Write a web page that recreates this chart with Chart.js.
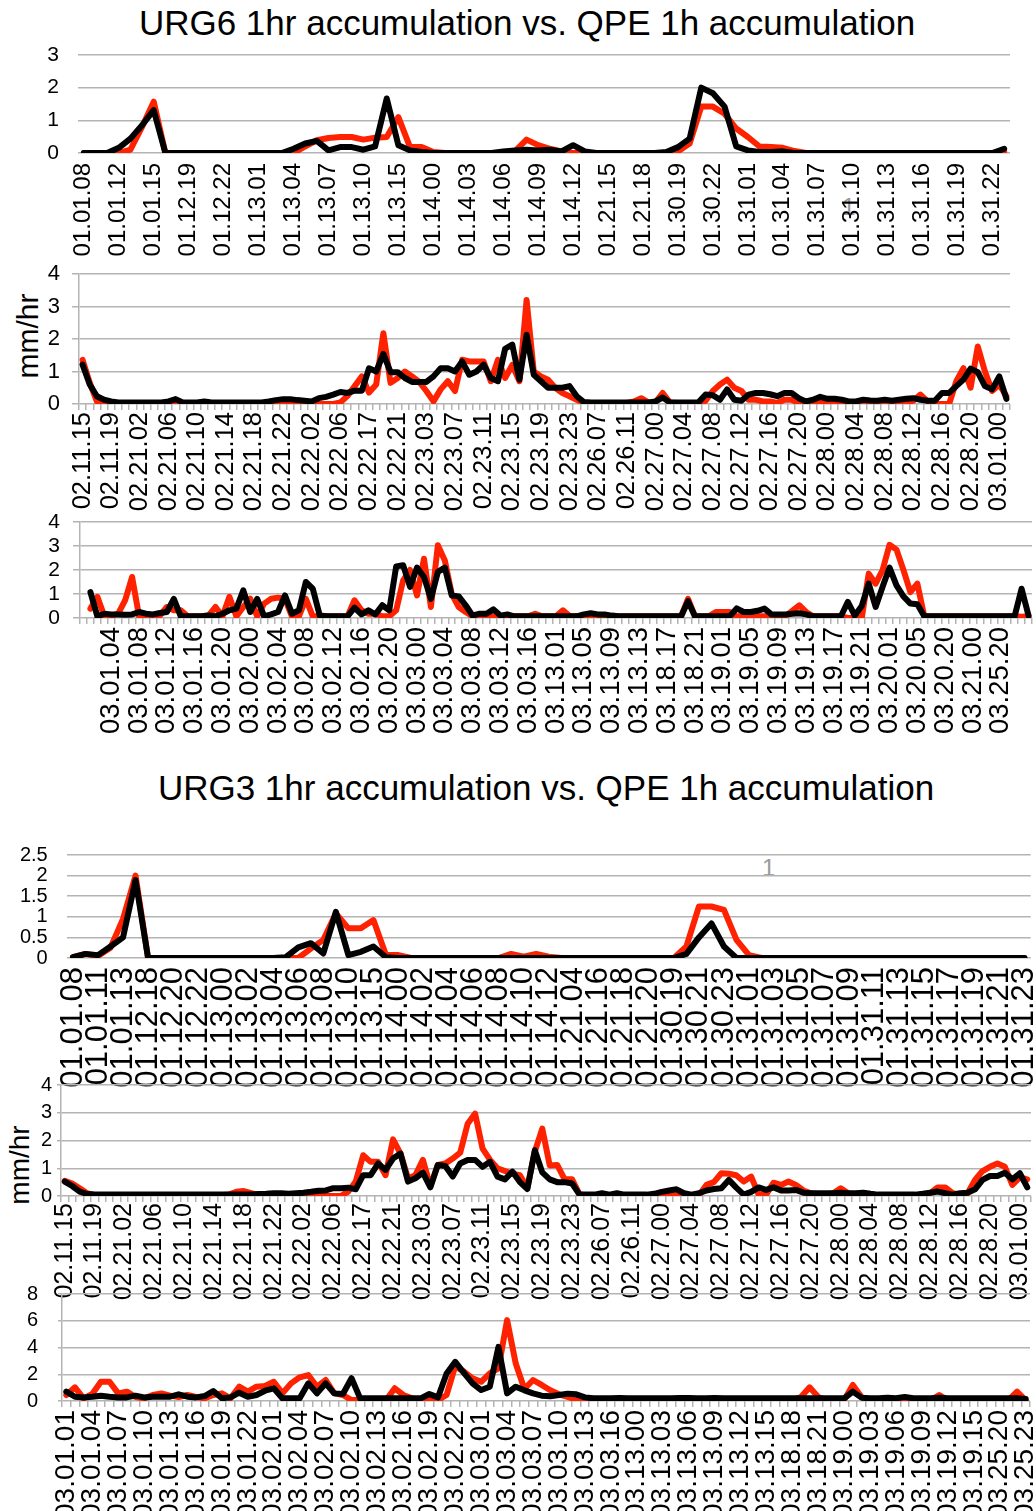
<!DOCTYPE html>
<html><head><meta charset="utf-8">
<script src="https://cdn.jsdelivr.net/npm/chart.js@4.4.0/dist/chart.umd.min.js"></script>
<style>
html,body{margin:0;padding:0;background:#fff;}
body{width:1036px;height:1511px;overflow:hidden;position:relative;font-family:"Liberation Sans",Arial,sans-serif;}
.title{position:absolute;font-size:35px;line-height:35px;color:#000;white-space:nowrap;transform:translateX(-50%);}
.ylab{position:absolute;white-space:nowrap;color:#000;transform:translate(-50%,-50%) rotate(-90deg);line-height:1;}
.stray{position:absolute;color:#9a9a9a;font-size:24px;line-height:24px;}
canvas{position:absolute;left:0;}
</style></head>
<body>
<div class="title" style="left:527px;top:5px;">URG6 1hr accumulation vs. QPE 1h accumulation</div>
<div class="title" style="left:546px;top:770px;">URG3 1hr accumulation vs. QPE 1h accumulation</div>
<div class="ylab" style="left:28px;top:336px;font-size:30px;">mm/hr</div>
<div class="ylab" style="left:20px;top:1165px;font-size:28px;">mm/hr</div>
<div class="stray" style="left:842px;top:195px;">1</div>
<div class="stray" style="left:762px;top:856px;">1</div>
<script>
// ---------- URG6 panel 1 (January) ----------
const p1Ticks = ['01.01.08','01.01.12','01.01.15','01.12.19','01.12.22','01.13.01','01.13.04','01.13.07','01.13.10','01.13.15','01.14.00','01.14.03','01.14.06','01.14.09','01.14.12','01.21.15','01.21.18','01.30.19','01.30.22','01.31.01','01.31.04','01.31.07','01.31.10','01.31.13','01.31.16','01.31.19','01.31.22'];
const p1QPE = [0,0,0,0,0.1,0.8,1.57,0,0,0, 0,0,0,0,0,0,0,0,0,0.2, 0.39,0.46,0.49,0.49,0.41,0.47,0.49,1.1,0.18,0.18, 0.03,0,0,0,0,0,0,0.05,0.41,0.24, 0.13,0.05,0,0,0,0,0,0,0,0, 0,0.05,0.29,1.42,1.42,1.2,0.75,0.49,0.2,0.18, 0.16,0.06,0,0,0,0,0,0,0,0, 0,0,0,0,0,0,0,0,0,0.05];
const p1URG = [0,0,0,0.16,0.44,0.85,1.31,0,0,0, 0,0,0,0,0,0,0,0,0.13,0.29, 0.37,0.08,0.18,0.18,0.1,0.2,1.67,0.24,0.08,0.03, 0,0,0,0,0,0,0.05,0.08,0.1,0.08, 0.1,0.05,0.24,0.05,0,0,0,0,0,0, 0.03,0.18,0.44,2.0,1.83,1.42,0.2,0.08,0.03,0.03, 0.05,0,0,0,0,0,0,0,0,0, 0,0,0,0,0,0,0,0,0,0.13];

// ---------- URG6 panel 2 (February) ----------
const febTicks = ['02.11.15','02.11.19','02.21.02','02.21.06','02.21.10','02.21.14','02.21.18','02.21.22','02.22.02','02.22.06','02.22.17','02.22.21','02.23.03','02.23.07','02.23.11','02.23.15','02.23.19','02.23.23','02.26.07','02.26.11','02.27.00','02.27.04','02.27.08','02.27.12','02.27.16','02.27.20','02.28.00','02.28.04','02.28.08','02.28.12','02.28.16','02.28.20','03.01.00'];
const p2URG = [1.21,0.6,0.24,0.13,0.08,0.05,0.05,0.05,0.05,0.05, 0.05,0.05,0.08,0.15,0.05,0.05,0.05,0.08,0.05,0.05, 0.05,0.05,0.05,0.05,0.05,0.05,0.08,0.12,0.15,0.15, 0.12,0.1,0.08,0.18,0.22,0.29,0.37,0.34,0.41,0.41, 1.1,1.0,1.54,0.98,0.98,0.8,0.68,0.68,0.68,0.85, 1.1,1.1,1.0,1.31,0.9,1.0,1.21,0.8,0.7,1.7, 1.83,0.75,2.13,0.9,0.7,0.5,0.5,0.5,0.55,0.24, 0.06,0.05,0.05,0.05,0.05,0.05,0.05,0.05,0.05,0.05, 0.08,0.2,0.05,0.05,0.05,0.05,0.05,0.29,0.27,0.13, 0.45,0.13,0.1,0.29,0.34,0.34,0.3,0.24,0.34,0.34, 0.18,0.08,0.13,0.22,0.16,0.16,0.13,0.08,0.08,0.13, 0.11,0.1,0.13,0.1,0.13,0.16,0.18,0.13,0.1,0.1, 0.34,0.34,0.55,0.75,1.09,0.98,0.55,0.45,0.85,0.16];
const p2QPE = [1.36,0.65,0.08,0.02,0.02,0.02,0.02,0.02,0.02,0.02, 0.02,0.02,0.02,0.02,0.02,0.02,0.02,0.02,0.02,0.02, 0.02,0.02,0.02,0.02,0.02,0.02,0.02,0.02,0.02,0.02, 0.02,0.02,0.02,0,0,0,0.05,0.25,0.55,0.85, 0.35,0.6,2.18,0.65,0.8,1.0,0.85,0.68,0.4,0.08, 0.45,0.7,0.4,1.36,1.31,1.31,1.31,0.7,1.36,0.8, 1.2,0.7,3.2,1.0,0.85,0.75,0.5,0.34,0.24,0.13, 0.03,0.03,0.03,0.03,0.03,0.03,0.03,0.08,0.18,0.05, 0.05,0.34,0.05,0.03,0.03,0.03,0,0.1,0.4,0.6, 0.75,0.5,0.4,0.13,0.13,0.08,0.08,0.03,0.13,0.13, 0.03,0.03,0.03,0.05,0.03,0.03,0.03,0.03,0.03,0.03, 0.03,0.03,0.03,0.03,0.03,0.05,0.1,0.29,0.08,0, 0,0,0.7,1.1,0.5,1.77,1.0,0.4,0.6,0.24];

// ---------- URG6 panel 3 (March) ----------
const p3Ticks = ['','03.01.04','03.01.08','03.01.12','03.01.16','03.01.20','03.02.00','03.02.04','03.02.08','03.02.12','03.02.16','03.02.20','03.03.00','03.03.04','03.03.08','03.03.12','03.03.16','03.13.01','03.13.05','03.13.09','03.13.13','03.18.17','03.18.21','03.19.01','03.19.05','03.19.09','03.19.13','03.19.17','03.19.21','03.20.01','03.20.05','03.20.20','03.21.00','03.25.20'];
const p3URG = [null, 1.08,0.07,0.18,0.15,0.15,0.14,0.15,0.25,0.18,0.15, 0.21,0.25,0.8,0.07,0.07,0.07,0.07,0.1,0.07,0.18, 0.32,0.39,1.15,0.25,0.8,0.07,0.15,0.25,0.94,0.18, 0.32,1.5,1.22,0.1,0.07,0.07,0.07,0.07,0.43,0.15, 0.32,0.15,0.53,0.32,2.15,2.2,1.3,2.1,1.71,0.8, 1.92,2.1,0.94,0.9,0.53,0.1,0.18,0.18,0.36,0.1, 0.15,0.07,0.07,0.07,0.07,0.07,0.07,0.07,0.07,0.07, 0.07,0.15,0.2,0.15,0.15,0.1,0.07,0.07,0.07,0.07, 0.07,0.07,0.07,0.07,0.07,0.07,0.7,0.07,0.07,0.07, 0.07,0.07,0.07,0.4,0.25,0.25,0.3,0.39,0.15,0.15, 0.15,0.18,0.2,0.15,0.07,0.07,0.07,0.07,0.07,0.67, 0.1,0.5,1.43,0.46,1.3,2.1,1.36,0.9,0.6,0.57, 0.07,0.07,0.07,0.07,0.07,0.07,0.07,0.07,0.07,0.07, 0.07,0.07,0.07,0.07,1.22,0.1];
const p3QPE = [null, 0.39,0.88,0.07,0.1,0.18,0.74,1.71,0.07,0.1,0.1, 0.1,0.46,0.32,0.32,0.07,0.07,0.07,0.1,0.46,0.07, 0.88,0.07,0.46,0.8,0.07,0.6,0.8,0.85,0.8,0.07, 0.07,0.8,0.07,0.07,0.07,0.07,0.07,0.07,0.74,0.32, 0.18,0.18,0.07,0.07,0.32,1.57,2.0,0.94,2.47,0.46, 3.03,2.4,1.0,0.46,0.25,0.07,0.07,0.07,0.07,0.07, 0.07,0.07,0.07,0.07,0.18,0.07,0.07,0.07,0.32,0.07, 0.07,0.07,0.07,0.07,0.07,0.07,0.07,0.07,0.07,0.07, 0.07,0.07,0.07,0.07,0.07,0.07,0.8,0.07,0.07,0.07, 0.25,0.25,0.25,0.07,0.07,0.07,0.07,0.07,0.07,0.07, 0.07,0.3,0.53,0.25,0.07,0.07,0.07,0.07,0.07,0, 0,0,1.85,1.43,2.0,3.05,2.85,2.0,1.08,1.43, 0.07,0.07,0.07,0.07,0.07,0.07,0.07,0.07,0.07,0.07, 0.07,0.07,0.07,0.07,0.05,0.07];

// ---------- URG3 panel 4 (January) ----------
const p4Ticks = ['01.01.08','01.01.11','01.01.13','01.12.18','01.12.20','01.12.22','01.13.00','01.13.02','01.13.04','01.13.06','01.13.08','01.13.10','01.13.15','01.14.00','01.14.02','01.14.04','01.14.06','01.14.08','01.14.10','01.14.12','01.21.04','01.21.16','01.21.18','01.21.20','01.30.19','01.30.21','01.30.23','01.31.01','01.31.03','01.31.05','01.31.07','01.31.09','01.31.11','01.31.13','01.31.15','01.31.17','01.31.19','01.31.21','01.31.23'];
const p4URG = [0.02,0.1,0.07,0.28,0.5,1.89,0,0,0,0, 0,0,0,0,0,0,0,0.02,0.26,0.36, 0.11,1.12,0.07,0.15,0.28,0.02,0,0,0,0, 0,0,0,0,0,0,0,0,0,0, 0,0,0,0,0,0,0,0,0,0.1, 0.5,0.84,0.28,0,0,0,0,0,0,0, 0,0,0,0,0,0,0,0,0,0, 0,0,0,0,0,0,0];
const p4QPE = [0.02,0.1,0.05,0.25,0.95,2.0,0,0,0,0, 0,0,0,0,0,0,0,0,0,0.23, 0.44,1.08,0.72,0.72,0.92,0.07,0.07,0,0,0, 0,0,0,0,0,0.1,0.03,0.1,0.03,0, 0,0,0,0,0,0,0,0,0,0.28, 1.25,1.25,1.17,0.44,0.07,0,0,0,0,0, 0,0,0,0,0,0,0,0,0,0, 0,0,0,0,0,0,0];

// ---------- URG3 panel 5 (February) ----------
const p5URG = [0.52,0.36,0.16,0.07,0.05,0.05,0.05,0.05,0.05,0.05, 0.05,0.05,0.05,0.05,0.05,0.05,0.05,0.05,0.05,0.05, 0.05,0.05,0.05,0.05,0.05,0.05,0.07,0.08,0.1,0.1, 0.08,0.1,0.12,0.15,0.19,0.2,0.28,0.28,0.3,0.24, 0.75,0.75,1.17,0.94,1.35,1.53,0.52,0.64,0.84,0.31, 1.12,1.08,0.7,1.17,1.3,1.3,1.05,1.23,0.7,0.6, 0.88,0.5,0.25,1.65,0.85,0.6,0.5,0.5,0.45,0.05, 0.05,0.05,0.1,0.05,0.1,0.05,0.05,0.05,0.05,0.08, 0.15,0.2,0.24,0.1,0.05,0.1,0.2,0.25,0.28,0.58, 0.3,0.05,0.15,0.31,0.22,0.31,0.2,0.2,0.22,0.12, 0.1,0.1,0.1,0.1,0.12,0.1,0.1,0.12,0.08,0.05, 0.05,0.05,0.05,0.05,0.05,0.08,0.12,0.16,0.1,0.05, 0.1,0.12,0.24,0.58,0.72,0.72,0.84,0.6,0.82,0.31];
const p5QPE = [0.55,0.45,0.28,0.1,0.03,0.03,0.03,0.03,0.03,0.03, 0.03,0.03,0.03,0.03,0.03,0.03,0.03,0.03,0.03,0.03, 0.03,0.03,0.05,0.15,0.18,0.1,0.03,0.03,0.03,0.03, 0.03,0.03,0.03,0.03,0.03,0,0,0,0.16,0.52, 1.47,1.23,1.23,0.75,2.04,1.53,0.64,0.75,1.3,0.34, 1.12,1.17,1.35,1.56,2.6,2.97,1.71,1.3,1.0,0.9, 0.8,0.75,0.3,1.6,2.43,1.1,1.12,0.6,0.6,0.05, 0.03,0.03,0.03,0.03,0.03,0.03,0.03,0.03,0.03,0.03, 0.03,0.03,0.03,0.03,0.03,0.03,0.4,0.5,0.82,0.8, 0.75,0.52,0.7,0.05,0.05,0.48,0.4,0.52,0.4,0.2, 0.1,0.05,0.05,0.1,0.28,0.1,0.05,0.05,0.05,0.03, 0.03,0.03,0.03,0.03,0.03,0.05,0.1,0.31,0.31,0.1, 0.05,0.1,0.58,0.9,1.05,1.17,1.05,0.4,0.67,0.6];

// ---------- URG3 panel 6 (March) ----------
const p6Ticks = ['03.01.01','03.01.04','03.01.07','03.01.10','03.01.13','03.01.16','03.01.19','03.01.22','03.02.01','03.02.04','03.02.07','03.02.10','03.02.13','03.02.16','03.02.19','03.02.22','03.03.01','03.03.04','03.03.07','03.03.10','03.03.13','03.03.16','03.13.00','03.13.03','03.13.06','03.13.09','03.13.12','03.13.15','03.18.18','03.18.21','03.19.00','03.19.03','03.19.06','03.19.09','03.19.12','03.19.15','03.25.20','03.25.23'];
const p6URG = [0.7,0.32,0.27,0.32,0.4,0.32,0.27,0.27,0.4,0.27, 0.32,0.32,0.32,0.5,0.32,0.27,0.37,0.75,0.2,0.27, 0.62,0.32,0.45,0.77,0.95,0.2,0.2,0.2,1.32,0.57, 1.32,0.57,0.52,1.7,0.2,0.2,0.2,0.2,0.2,0.2, 0.2,0.2,0.52,0.27,2.06,2.93,2.1,1.32,0.82,1.07, 4.05,0.57,1.07,0.8,0.57,0.4,0.35,0.45,0.55,0.5, 0.27,0.2,0.2,0.2,0.22,0.2,0.2,0.2,0.2,0.2, 0.2,0.22,0.22,0.2,0.2,0.22,0.2,0.2,0.2,0.2, 0.2,0.2,0.2,0.2,0.2,0.2,0.2,0.2,0.2,0.2, 0.2,0.7,0.25,0.2,0.2,0.25,0.2,0.3,0.2,0.2, 0.2,0.25,0.2,0.2,0.2,0.2,0.2,0.2,0.2,0.2, 0.2,0.15];
const p6QPE = [0.45,1.02,0.2,0.52,1.44,1.44,0.57,0.7,0.3,0.2, 0.45,0.57,0.4,0.3,0.45,0.3,0.2,0.45,0.57,0.2, 1.07,0.7,1.07,1.12,1.44,0.57,1.32,1.77,1.94,1.07, 1.57,0.57,0.45,0.07,0.07,0.07,0.07,0.07,0.95,0.45, 0.2,0.07,0.07,0.07,0.45,2.6,2.2,1.7,1.44,2.06, 2.44,6.05,2.8,0.9,1.57,1.2,0.8,0.5,0.3,0.1, 0.07,0.07,0.07,0.07,0.07,0.07,0.07,0.07,0.07,0.07, 0.07,0.07,0.07,0.07,0.07,0.07,0.07,0.07,0.07,0.07, 0.07,0.07,0.07,0.07,0.07,0.3,1.02,0.3,0.07,0.07, 0.07,1.2,0.3,0.07,0.07,0.07,0.07,0.07,0.07,0.07, 0.07,0.45,0.07,0.07,0.07,0.07,0.07,0.07,0.07,0.07, 0.7,0.07];

function expandLabels(ticks, step, n) {
  const out = new Array(n).fill('');
  ticks.forEach((t, k) => { if (k * step < n) out[k * step] = t; });
  return out;
}

const FONT = '"Liberation Sans", Arial, sans-serif';
const GRID = '#b4b4b4';

const panels = [
  {labels: expandLabels(p1Ticks, 3, 80), urg: p1URG, qpe: p1QPE, yMax: 3, yStep: 1,
   left: 78, right: 1010, top: 55, bottom: 152.7, axis: false, yTick: 0, yPad: 19, yFont: 21,
   xTick: 0, xPad: 10, xFont: 24},
  {labels: expandLabels(febTicks, 4, 130), urg: p2URG, qpe: p2QPE, yMax: 4, yStep: 1,
   left: 79, right: 1010, top: 274.3, bottom: 404.3, axis: true, yTick: 7, yPad: 12, yFont: 22,
   xTick: 6, xPad: 2, xFont: 25.5},
  {labels: expandLabels(p3Ticks, 4, 137), urg: p3URG, qpe: p3QPE, yMax: 4, yStep: 1,
   left: 80, right: 1032, top: 521.7, bottom: 617.7, axis: true, yTick: 7, yPad: 13, yFont: 21,
   xTick: 6, xPad: 3, xFont: 27.5},
  {labels: expandLabels(p4Ticks, 2, 77), urg: p4URG, qpe: p4QPE, yMax: 2.5, yStep: 0.5,
   left: 66.7, right: 1030.7, top: 855, bottom: 958, axis: false, yTick: 0, yPad: 19, yFont: 20,
   xTick: 0, xPad: 9, xFont: 31},
  {labels: expandLabels(febTicks, 4, 130), urg: p5URG, qpe: p5QPE, yMax: 4, yStep: 1,
   left: 61, right: 1031, top: 1085, bottom: 1196, axis: true, yTick: 4, yPad: 5, yFont: 20,
   xTick: 6, xPad: 1, xFont: 25},
  {labels: expandLabels(p6Ticks, 3, 112), urg: p6URG, qpe: p6QPE, yMax: 8, yStep: 2,
   left: 62, right: 1030, top: 1294, bottom: 1401, axis: true, yTick: 4, yPad: 20, yFont: 20,
   xTick: 6, xPad: 3, xFont: 28}
];

panels.forEach(p => {
  const padTop = 16, xh = 140;
  const H = Math.round(padTop + (p.bottom - p.top) + xh);
  const cv = document.createElement('canvas');
  cv.width = 1036; cv.height = H;
  cv.style.top = (p.top - padTop) + 'px';
  cv.style.width = '1036px'; cv.style.height = H + 'px';
  document.body.appendChild(cv);
  new Chart(cv, {
    type: 'line',
    data: {
      labels: p.labels,
      datasets: [
        {label: 'URG', data: p.urg, borderColor: '#000000', borderWidth: 6, pointRadius: 0,
         tension: 0, borderJoinStyle: 'round', borderCapStyle: 'round', order: 0, spanGaps: false},
        {label: 'QPE', data: p.qpe, borderColor: '#ff2200', borderWidth: 6, pointRadius: 0,
         tension: 0, borderJoinStyle: 'round', borderCapStyle: 'round', order: 1, spanGaps: false}
      ]
    },
    options: {
      responsive: false, animation: false, devicePixelRatio: 1,
      layout: {padding: {top: padTop, left: 0, right: 1036 - p.right, bottom: 0}},
      plugins: {legend: {display: false}, tooltip: {enabled: false}},
      scales: {
        x: {
          type: 'category', offset: true,
          grid: {display: p.xTick > 0, drawOnChartArea: false, drawTicks: p.xTick > 0, tickLength: p.xTick,
                 offset: true, color: GRID, lineWidth: 1.5},
          border: {display: false},
          ticks: {autoSkip: false, maxRotation: 90, minRotation: 90, padding: p.xPad, color: '#000',
                  font: {family: FONT, size: p.xFont},
                  callback: (v, i) => p.labels[i]},
          afterFit: s => { s.height = xh; s.paddingLeft = 0; s.paddingRight = 0; }
        },
        y: {
          min: 0, max: p.yMax,
          ticks: {stepSize: p.yStep, autoSkip: false, padding: p.yPad, color: '#000',
                  font: {family: FONT, size: p.yFont}, callback: v => '' + v},
          grid: {color: GRID, lineWidth: 1.5, drawTicks: p.yTick > 0, tickLength: p.yTick},
          border: {display: p.axis, color: GRID, width: 1.5},
          afterFit: s => { s.width = p.left; s.paddingTop = 0; s.paddingBottom = 0; }
        }
      }
    }
  });
});
</script>
</body></html>
